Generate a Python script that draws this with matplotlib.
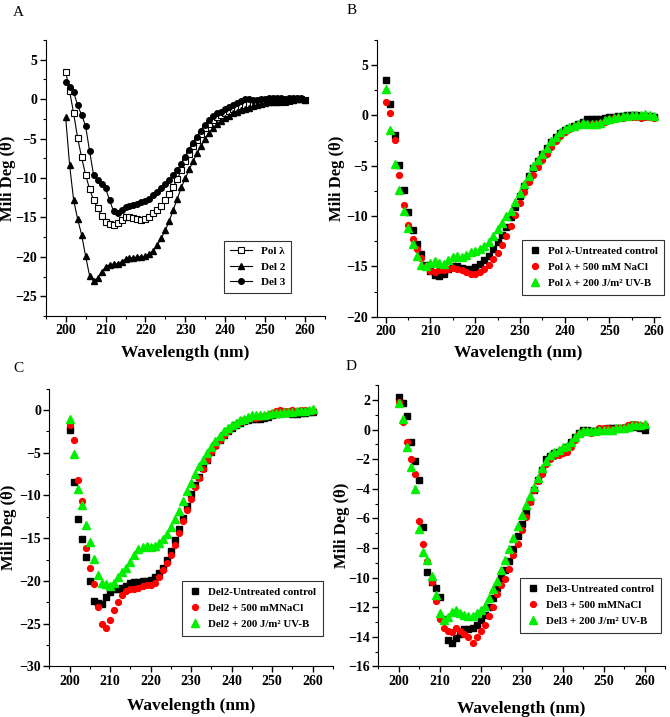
import numpy as np
import matplotlib
matplotlib.use("Agg")
import matplotlib.pyplot as plt
from matplotlib.ticker import MultipleLocator

plt.rcParams['font.family'] = ['Liberation Serif', 'DejaVu Serif']
plt.rcParams['font.weight'] = 'bold'

# wavelength in nm, one reading per nm
wavelength = np.arange(200, 261)

# panel A
pol_lambda = [3.5, 1.0, -1.8, -4.9, -7.4, -9.6, -11.4, -12.8, -13.8, -14.8,
              -15.6, -15.8, -16.0, -15.7, -15.3, -15.0, -15.0, -15.1, -15.2, -15.3,
              -15.2, -14.9, -14.4, -14.0, -13.5, -12.8, -12.0, -11.1, -10.1, -9.0,
              -7.9, -6.9, -6.0, -5.2, -4.4, -3.7, -3.2, -2.7, -2.3, -2.0,
              -1.7, -1.5, -1.3, -1.1, -0.9, -0.7, -0.6, -0.6, -0.5, -0.4,
              -0.3, -0.2, -0.2, -0.2, -0.3, -0.3, -0.2, -0.1, 0.0, 0.0, -0.1]
del2 = [-2.3, -8.4, -12.8, -15.2, -17.2, -19.9, -22.4, -23.1, -22.7, -21.9,
        -21.3, -21.0, -20.9, -20.9, -20.6, -20.3, -20.1, -20.1, -20.0, -20.0,
        -19.9, -19.6, -19.2, -18.5, -17.6, -16.6, -15.4, -14.0, -12.6, -11.2,
        -10.0, -8.9, -7.8, -6.8, -5.9, -5.0, -4.3, -3.7, -3.2, -2.8,
        -2.4, -2.1, -1.8, -1.6, -1.4, -1.2, -1.1, -0.9, -0.7, -0.6,
        -0.5, -0.4, -0.3, -0.3, -0.2, -0.2, -0.1, -0.1, 0.0, 0.0, -0.1]
del3 = [2.2, 1.6, 0.9, -0.8, -2.0, -3.4, -6.6, -9.6, -10.2, -10.7,
        -11.3, -12.8, -14.2, -14.4, -14.0, -13.7, -13.5, -13.4, -13.3, -13.1,
        -12.9, -12.6, -12.2, -11.8, -11.3, -10.8, -10.3, -9.6, -9.0, -8.2,
        -7.3, -6.4, -5.6, -4.8, -4.0, -3.3, -2.7, -2.1, -1.8, -1.6,
        -1.3, -1.0, -0.8, -0.5, -0.2, 0.0, 0.0, -0.1, -0.1, 0.0,
        0.0, 0.1, 0.1, 0.1, 0.1, 0.0, 0.1, 0.2, 0.1, 0.1, -0.1]

# panel B - Pol lambda treatments
b_control = [3.5, 1.1, -1.9, -4.9, -7.4, -9.6, -11.4, -12.8, -13.8, -14.9,
             -15.5, -15.9, -16.0, -15.8, -15.3, -15.0, -15.0, -15.2, -15.3, -15.3,
             -15.1, -14.8, -14.4, -14.0, -13.3, -12.6, -11.9, -11.1, -10.1, -9.1,
             -8.0, -7.0, -6.0, -5.2, -4.5, -3.8, -3.2, -2.6, -2.1, -1.7,
             -1.4, -1.2, -1.0, -0.8, -0.6, -0.4, -0.4, -0.4, -0.4, -0.3,
             -0.2, -0.2, -0.1, -0.1, 0.0, 0.0, 0.0, -0.1, -0.1, -0.1, -0.2]
b_nacl = [1.3, 0.2, -2.4, -5.9, -8.9, -10.9, -12.3, -13.3, -14.2, -15.0,
          -15.5, -15.6, -15.4, -15.4, -15.3, -15.2, -15.3, -15.4, -15.6, -15.8,
          -15.8, -15.6, -15.3, -14.9, -14.3, -13.7, -12.9, -12.0, -11.0, -9.9,
          -8.7, -7.6, -6.6, -5.9, -5.1, -4.4, -3.8, -3.1, -2.5, -2.0,
          -1.6, -1.3, -1.1, -0.9, -0.8, -0.8, -0.8, -0.8, -0.7, -0.6,
          -0.4, -0.3, -0.3, -0.3, -0.2, -0.2, -0.2, -0.3, -0.2, -0.2, -0.3]
b_uvb = [2.6, -1.4, -4.8, -7.4, -9.5, -11.2, -12.8, -14.0, -14.9, -15.0,
         -14.7, -14.5, -14.7, -14.8, -14.4, -14.1, -14.0, -14.1, -13.9, -13.6,
         -13.5, -13.3, -13.0, -12.6, -12.0, -11.3, -10.7, -10.0, -9.5, -8.6,
         -7.7, -6.8, -6.0, -5.0, -4.4, -3.8, -3.2, -2.5, -2.1, -1.6,
         -1.3, -1.1, -1.0, -0.8, -0.7, -0.8, -0.8, -0.8, -0.7, -0.5,
         -0.4, -0.3, -0.2, -0.1, -0.1, 0.0, 0.0, 0.0, 0.1, 0.0, -0.1]

# panel C - Del2 treatments
c_control = [-2.3, -8.4, -12.8, -15.1, -17.2, -20.0, -22.3, -22.6, -22.7, -21.9,
             -21.3, -21.0, -20.9, -20.8, -20.6, -20.3, -20.1, -20.1, -20.0, -20.0,
             -19.9, -19.6, -19.1, -18.5, -17.6, -16.5, -15.2, -13.9, -12.6, -11.2,
             -9.8, -8.8, -7.8, -6.8, -5.8, -4.9, -4.1, -3.5, -2.9, -2.5,
             -2.1, -1.8, -1.5, -1.3, -1.2, -1.1, -1.0, -1.0, -0.9, -0.8,
             -0.6, -0.5, -0.4, -0.4, -0.4, -0.5, -0.5, -0.4, -0.3, -0.2, -0.2]
c_nacl = [-1.7, -3.5, -8.2, -10.7, -16.2, -18.5, -20.4, -23.1, -25.1, -25.5,
          -24.6, -23.4, -22.5, -21.6, -21.2, -21.0, -20.9, -20.8, -20.6, -20.5,
          -20.5, -20.3, -19.6, -18.7, -17.9, -17.0, -15.8, -14.4, -13.0, -11.7,
          -10.4, -9.0, -7.9, -6.9, -5.9, -4.9, -4.2, -3.5, -2.9, -2.4,
          -2.0, -1.7, -1.4, -1.2, -1.0, -0.9, -0.9, -0.8, -0.7, -0.6,
          -0.4, -0.1, 0.0, -0.1, -0.1, 0.0, -0.1, 0.0, 0.0, -0.1, -0.1]
c_uvb = [-1.1, -5.2, -9.3, -11.1, -13.5, -15.4, -17.4, -19.3, -20.2, -20.4,
         -20.6, -20.2, -19.6, -19.0, -18.5, -17.8, -17.0, -16.3, -16.0, -15.9,
         -16.0, -15.9, -15.6, -15.1, -14.5, -13.7, -12.8, -11.8, -10.7, -9.5,
         -8.5, -7.5, -6.6, -5.8, -5.0, -4.3, -3.6, -3.0, -2.5, -2.1,
         -1.8, -1.5, -1.2, -1.0, -0.8, -0.6, -0.6, -0.6, -0.6, -0.5,
         -0.4, -0.3, -0.3, -0.2, -0.2, -0.2, -0.1, -0.1, -0.1, 0.0, 0.1]

# panel D - Del3 treatments
d_control = [2.2, 1.8, 0.9, -0.8, -2.1, -3.4, -6.6, -9.6, -10.3, -10.7,
             -11.3, -12.8, -14.2, -14.4, -14.1, -13.8, -13.5, -13.5, -13.4, -13.2,
             -12.9, -12.5, -12.0, -11.4, -10.7, -10.0, -9.5, -8.9, -8.1, -7.2,
             -6.4, -5.6, -4.8, -4.1, -3.4, -2.7, -2.0, -1.8, -1.6, -1.5,
             -1.4, -1.2, -0.8, -0.5, -0.2, 0.0, 0.0, -0.1, -0.1, 0.0,
             0.0, 0.1, 0.1, 0.1, 0.1, 0.1, 0.2, 0.3, 0.2, 0.1, 0.0]
d_nacl = [1.9, 0.5, -0.8, -2.0, -3.0, -6.2, -7.7, -8.9, -10.3, -11.6,
          -12.8, -13.4, -13.6, -13.7, -13.4, -13.6, -13.8, -14.0, -14.4, -14.0,
          -13.6, -13.2, -12.6, -12.0, -11.1, -10.5, -10.1, -9.4, -8.5, -7.7,
          -6.8, -5.9, -4.9, -4.1, -3.5, -3.0, -2.3, -2.0, -1.8, -1.7,
          -1.6, -1.5, -1.2, -0.7, -0.3, -0.1, -0.1, -0.2, -0.1, 0.1,
          0.1, 0.1, 0.0, 0.1, 0.1, 0.2, 0.3, 0.4, 0.4, 0.3, 0.3]
d_uvb = [1.8, 0.7, -1.2, -2.5, -4.0, -6.7, -8.3, -8.8, -9.9, -11.2,
         -12.4, -12.9, -12.7, -12.3, -12.2, -12.4, -12.5, -12.6, -12.6, -12.4,
         -12.2, -11.9, -11.4, -10.8, -10.2, -9.5, -8.8, -8.1, -7.3, -6.5,
         -5.8, -5.1, -4.5, -3.9, -3.3, -2.6, -2.1, -1.7, -1.5, -1.4,
         -1.2, -1.1, -0.8, -0.5, -0.2, -0.1, -0.1, -0.1, -0.1, 0.0,
         0.0, 0.0, 0.0, 0.1, 0.1, 0.1, 0.2, 0.3, 0.3, 0.3, 0.4]

labels_a = ['Pol λ', 'Del 2', 'Del 3']
labels_b = ['Pol λ-Untreated control', 'Pol λ + 500 mM NaCl', 'Pol λ + 200 J/m² UV-B']
labels_c = ['Del2-Untreated control', 'Del2 + 500 mMNaCl', 'Del2 + 200 J/m² UV-B']
labels_d = ['Del3-Untreated control', 'Del3 + 500 mMNaCl', 'Del3 + 200 J/m² UV-B']

W, H = 670, 717
fig = plt.figure(figsize=(6.7, 7.17), dpi=100)


def make_axes(l, r, t, b):
    # pixel box -> figure fraction
    return fig.add_axes([l / W, 1 - b / H, (r - l) / W, (b - t) / H])


def style(ax, xlim, ylim, ymaj, ymin, xlab_y, ylab_x):
    ax.set_xlim(*xlim)
    ax.set_ylim(*ylim)
    ax.spines['top'].set_visible(False)
    ax.spines['right'].set_visible(False)
    ax.xaxis.set_major_locator(MultipleLocator(10))
    ax.xaxis.set_minor_locator(MultipleLocator(5))
    ax.yaxis.set_major_locator(MultipleLocator(ymaj))
    ax.yaxis.set_minor_locator(MultipleLocator(ymin))
    ax.tick_params(which='major', direction='out', length=4, width=1, labelsize=10, pad=2)
    ax.tick_params(which='minor', direction='out', length=2, width=0.8)
    for lab in ax.get_xticklabels() + ax.get_yticklabels():
        lab.set_fontweight('bold')
    ax.set_xlabel('Wavelength (nm)', fontsize=12.5, fontweight='bold')
    ax.set_ylabel('Mili Deg (θ)', fontsize=12, fontweight='bold')
    ax.xaxis.set_label_coords(0.5, xlab_y)
    ax.yaxis.set_label_coords(ylab_x, 0.5)


def scatter3(ax, ys, labels):
    ax.plot(wavelength, ys[0], 's', color='black', ms=3.8, label=labels[0])
    ax.plot(wavelength, ys[1], 'o', color='#ff0000', ms=4.2, label=labels[1])
    ax.plot(wavelength, ys[2], '^', color='#00ee00', ms=5.2, label=labels[2])


# A
axA = make_axes(45.7, 325, 40, 316)
axA.plot(wavelength, pol_lambda, '-s', color='black', lw=0.8, ms=4,
         mfc='white', mew=0.8, label=labels_a[0])
axA.plot(wavelength, del2, '-^', color='black', lw=0.8, ms=5, label=labels_a[1])
axA.plot(wavelength, del3, '-o', color='black', lw=0.8, ms=4, label=labels_a[2])
style(axA, (195, 265), (-27.5, 7.5), 5, 2.5, -0.105, -0.105)
leg = axA.legend(loc='lower left', bbox_to_anchor=(0.62, 0.065), fontsize=8,
                 frameon=True, fancybox=False, edgecolor='black', handlelength=2.0,
                 borderpad=0.5, labelspacing=0.5)
leg.get_frame().set_linewidth(0.8)

# B
axB = make_axes(376.7, 660, 40, 316.7)
scatter3(axB, [b_control, b_nacl, b_uvb], labels_b)
style(axB, (198, 261.3), (-20, 7.5), 5, 2.5, -0.102, -0.112)

# C
axC = make_axes(49.3, 333, 388.7, 666.3)
scatter3(axC, [c_control, c_nacl, c_uvb], labels_c)
style(axC, (195, 265), (-30, 2.5), 5, 2.5, -0.114, -0.115)

# D
axD = make_axes(378.3, 665, 385.3, 666.3)
scatter3(axD, [d_control, d_nacl, d_uvb], labels_d)
style(axD, (195, 265), (-16, 3), 2, 1, -0.123, -0.099)

for ax, anchor in [(axB, (0.494, 0.06)), (axC, (0.449, 0.091)), (axD, (0.477, 0.10))]:
    leg = ax.legend(loc='lower left', bbox_to_anchor=anchor, fontsize=7.8,
                    frameon=True, fancybox=False, edgecolor='black', handlelength=1.2,
                    handletextpad=0.6, borderpad=0.6, labelspacing=0.6)
    leg.get_frame().set_linewidth(0.8)

# panel letters
for txt, x, y in [('A', 13, 12), ('B', 347, 10), ('C', 13, 368), ('D', 346, 366)]:
    fig.text(x / W, 1 - y / H, txt, fontsize=11, fontweight='normal', va='center')

fig.savefig('out.png', dpi=100)
